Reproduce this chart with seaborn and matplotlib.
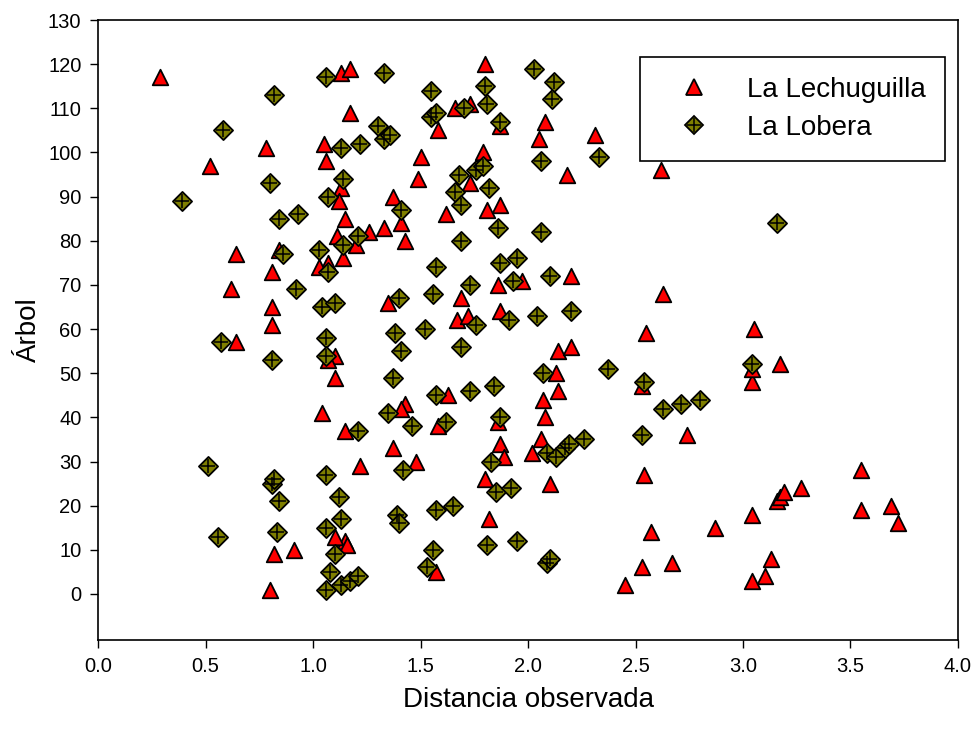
import matplotlib
matplotlib.use("Agg")
import matplotlib.pyplot as plt
from matplotlib.lines import Line2D
from matplotlib.legend_handler import HandlerTuple
import numpy as np
import pandas as pd
import seaborn as sns

sns.set_style("white")
plt.rcParams['font.family'] = ['Liberation Sans', 'DejaVu Sans']
plt.rcParams['text.color'] = 'black'
plt.rcParams['axes.labelcolor'] = 'black'
plt.rcParams['xtick.color'] = 'black'
plt.rcParams['ytick.color'] = 'black'

# La Lechuguilla: distancia observada / arbol
lech_x = [0.29, 0.52, 0.78, 1.05, 1.06, 1.13, 1.17, 1.17, 1.80, 1.73, 1.66, 1.58,
          1.87, 2.08, 2.05, 2.31, 2.18, 2.62, 1.50, 1.49, 1.79, 1.13, 1.12, 1.15,
          1.37, 1.41, 1.43, 1.33, 1.26, 1.20, 1.11, 1.07, 1.03, 1.14, 0.64, 0.62,
          0.81, 0.81, 0.81, 0.64, 1.73, 1.81, 1.87, 1.62, 1.35, 1.69, 1.67, 1.72,
          1.86, 1.97, 2.20, 2.63, 1.87, 1.10, 1.10, 1.07, 1.04, 1.15, 1.43, 1.41,
          1.37, 1.48, 1.58, 1.22, 1.63, 1.86, 1.87, 1.89, 1.80, 1.82, 1.57, 1.15,
          1.16, 1.10, 0.91, 0.82, 0.80, 2.14, 2.20, 2.13, 2.14, 2.07, 2.08, 2.06,
          2.02, 2.10, 2.55, 2.53, 2.74, 2.54, 2.57, 2.53, 2.45, 2.67, 2.87, 3.05,
          3.04, 3.04, 3.17, 3.04, 3.04, 3.10, 3.13, 3.16, 3.17, 3.19, 3.27, 3.55,
          3.55, 3.69, 3.72, 0.84]
lech_y = [117, 97, 101, 102, 98, 118, 119, 109, 120, 111, 110, 105,
          106, 107, 103, 104, 95, 96, 99, 94, 100, 92, 89, 85,
          90, 84, 80, 83, 82, 79, 81, 75, 74, 76, 77, 69,
          73, 65, 61, 57, 93, 87, 88, 86, 66, 67, 62, 63,
          70, 71, 72, 68, 64, 54, 49, 53, 41, 37, 43, 42,
          33, 30, 38, 29, 45, 39, 34, 31, 26, 17, 5, 12,
          11, 13, 10, 9, 1, 55, 56, 50, 46, 44, 40, 35,
          32, 25, 59, 47, 36, 27, 14, 6, 2, 7, 15, 60,
          48, 51, 52, 18, 3, 4, 8, 21, 22, 23, 24, 28,
          19, 20, 16, 78]

# La Lobera
lob_x = [0.39, 0.51, 0.56, 0.57, 0.58, 0.80, 0.82, 0.81, 0.81, 0.82, 0.84, 0.83,
         0.84, 0.86, 0.93, 0.92, 1.03, 1.04, 1.06, 1.07, 1.07, 1.06, 1.06, 1.10,
         1.06, 1.06, 1.06, 1.08, 1.10, 1.12, 1.13, 1.13, 1.13, 1.14, 1.14, 1.17,
         1.21, 1.21, 1.21, 1.22, 1.30, 1.33, 1.33, 1.36, 1.37, 1.35, 1.38, 1.40,
         1.41, 1.41, 1.39, 1.40, 1.42, 1.46, 1.52, 1.53, 1.56, 1.57, 1.56, 1.57,
         1.55, 1.55, 1.57, 1.57, 1.62, 1.65, 1.66, 1.68, 1.69, 1.69, 1.69, 1.70,
         1.73, 1.73, 1.76, 1.76, 1.79, 1.80, 1.81, 1.81, 1.82, 1.83, 1.84, 1.85,
         1.86, 1.87, 1.87, 1.87, 1.91, 1.92, 1.93, 1.95, 1.95, 2.03, 2.04, 2.06,
         2.06, 2.09, 2.10, 2.10, 2.11, 2.12, 2.07, 2.09, 2.13, 2.17, 2.19, 2.20,
         2.26, 2.33, 2.37, 2.53, 2.54, 2.63, 2.71, 2.80, 3.04, 3.16]
lob_y = [89, 29, 13, 57, 105, 93, 113, 53, 25, 26, 21, 14,
         85, 77, 86, 69, 78, 65, 117, 90, 73, 58, 54, 66,
         27, 15, 1, 5, 9, 22, 17, 2, 101, 94, 79, 3,
         4, 37, 81, 102, 106, 118, 103, 104, 49, 41, 59, 67,
         87, 55, 18, 16, 28, 38, 60, 6, 10, 19, 68, 74,
         114, 108, 109, 45, 39, 20, 91, 95, 88, 80, 56, 110,
         70, 46, 61, 96, 97, 115, 111, 11, 92, 30, 47, 23,
         83, 75, 107, 40, 62, 24, 71, 76, 12, 119, 63, 82,
         98, 7, 8, 72, 112, 116, 50, 32, 31, 33, 34, 64,
         35, 99, 51, 36, 48, 42, 43, 44, 52, 84]

df_lech = pd.DataFrame({"Distancia": lech_x, "Arbol": lech_y})
df_lob = pd.DataFrame({"Distancia": lob_x, "Arbol": lob_y})

red = "#ff0000"
olive = "#7f7f00"

fig = plt.figure(figsize=(9.71, 7.33), dpi=100)
ax = fig.add_axes([0.101, 0.127, 0.8856, 0.8457])

sns.scatterplot(data=df_lech, x="Distancia", y="Arbol", marker="^", s=125,
                color=red, edgecolor="black", linewidth=1.3, ax=ax, zorder=3)
sns.scatterplot(data=df_lob, x="Distancia", y="Arbol", marker="D", s=95,
                color=olive, edgecolor="black", linewidth=1.3, ax=ax, zorder=4)
sns.scatterplot(data=df_lob, x="Distancia", y="Arbol", marker="+", s=95,
                color="black", linewidth=1.1, ax=ax, zorder=5)

ax.set_xlim(0, 4.0)
ax.set_ylim(-10.4, 130)
ax.set_xticks(np.arange(0, 4.01, 0.5))
ax.set_xticklabels([f"{v:.1f}" for v in np.arange(0, 4.01, 0.5)])
ax.set_yticks(np.arange(0, 131, 10))
ax.tick_params(axis="both", direction="out", length=6, width=1, labelsize=14.5,
               bottom=True, left=True, pad=6)
for sp in ax.spines.values():
    sp.set_color("black")
    sp.set_linewidth(1.2)

ax.set_xlabel("Distancia observada", fontsize=20, labelpad=8)
ax.set_ylabel("Árbol", fontsize=20, labelpad=4)

h_lech = Line2D([], [], marker="^", linestyle="none", markersize=12,
                markerfacecolor=red, markeredgecolor="black", markeredgewidth=1.3)
h_lob = Line2D([], [], marker="D", linestyle="none", markersize=9.5,
               markerfacecolor=olive, markeredgecolor="black", markeredgewidth=1.3)
h_plus = Line2D([], [], marker="+", linestyle="none", markersize=9.5,
                markeredgecolor="black", markeredgewidth=1.1)
leg = ax.legend([h_lech, (h_lob, h_plus)], ["La Lechuguilla", "La Lobera"],
                handler_map={tuple: HandlerTuple(ndivide=1, pad=0)},
                loc="upper right", bbox_to_anchor=(0.985, 0.940),
                fontsize=20, frameon=True, fancybox=False, framealpha=1,
                edgecolor="black", borderpad=0.7, handletextpad=0.65,
                borderaxespad=0, handlelength=2.5, labelspacing=0.45)
leg.get_frame().set_linewidth(1.2)
leg.set_zorder(10)

fig.savefig("out.png", dpi=100)
